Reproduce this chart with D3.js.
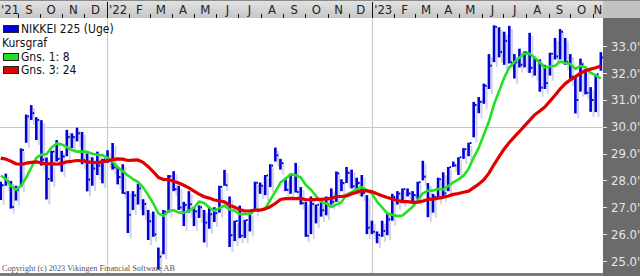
<!DOCTYPE html>
<html>
<head>
<meta charset="utf-8">
<script src="https://cdn.jsdelivr.net/npm/d3@7"></script>
<style>
  html, body { margin: 0; padding: 0; background: #fff; }
  svg { display: block; }
  text { font-family: "Liberation Sans Narrow", "DejaVu Sans Condensed", "Arial Narrow", sans-serif; }
</style>
</head>
<body>
<svg id="chart"></svg>
<script>
// Weekly bars, dated by the sunday that ends each week
const firstWeek = '2021-08-08'

const weekHigh = [
  27.95, 28.25, 27.98, 27.80, 29.19, 30.45, 30.80, 30.35, 30.24, 28.85,
  29.10, 29.50, 29.10, 29.88, 29.75, 29.96, 29.80, 29.00, 28.86, 29.07,
  28.80, 29.12, 29.39, 28.50, 28.60, 27.60, 27.60, 27.88, 27.30, 26.90,
  26.84, 25.50, 26.90, 28.20, 28.34, 27.80, 27.20, 27.60, 27.00, 27.07,
  26.90, 27.00, 27.00, 27.80, 28.39, 27.40, 26.50, 27.06, 26.53, 26.80,
  27.95, 27.92, 28.20, 28.60, 29.22, 28.80, 28.10, 28.25, 28.65, 27.75,
  27.20, 27.40, 27.10, 27.30, 27.40, 27.70, 28.33, 28.04, 28.50, 28.40,
  28.10, 28.20, 27.45, 26.50, 26.10, 26.50, 26.80, 27.50, 27.60, 27.70,
  27.70, 27.60, 27.95, 28.73, 27.90, 27.50, 28.10, 28.30, 28.50, 28.70,
  28.86, 29.20, 29.40, 30.92, 31.10, 31.60, 32.70, 33.77, 33.70, 33.53,
  33.75, 32.70, 32.90, 32.80, 33.49, 32.60, 32.50, 32.30, 32.75, 33.30,
  33.63, 33.30, 32.70, 31.90, 32.53, 32.15, 31.47, 31.95, 32.77
]

const weekLow = [
  27.27, 27.80, 26.95, 27.25, 27.75, 29.40, 30.25, 29.50, 28.55, 27.29,
  27.95, 28.70, 28.32, 28.90, 29.20, 29.45, 28.60, 27.59, 27.80, 28.20,
  27.89, 28.65, 28.40, 27.85, 27.50, 26.04, 26.90, 27.10, 26.70, 25.78,
  25.90, 24.68, 25.25, 26.80, 27.60, 26.90, 26.30, 26.80, 26.30, 26.60,
  25.69, 26.20, 26.45, 26.80, 27.80, 25.52, 25.74, 25.85, 25.86, 26.10,
  26.85, 27.50, 27.45, 27.75, 28.70, 28.40, 27.60, 27.50, 27.55, 27.10,
  25.90, 26.00, 26.40, 26.65, 26.70, 27.10, 27.20, 27.60, 27.90, 27.70,
  27.60, 27.40, 26.00, 26.00, 25.66, 25.90, 25.96, 26.50, 27.10, 27.20,
  27.40, 27.20, 27.30, 28.00, 26.63, 26.80, 27.30, 27.40, 27.60, 28.50,
  28.20, 28.80, 28.90, 29.60, 30.50, 30.85, 31.40, 32.40, 32.58, 32.30,
  32.35, 31.79, 32.20, 32.20, 32.00, 31.90, 31.30, 31.40, 31.90, 32.50,
  32.50, 32.30, 31.70, 30.49, 31.30, 31.20, 30.55, 30.54, 32.08
]

const weekClose = [
  27.82, 27.98, 27.01, 27.64, 29.13, 30.38, 30.50, 30.25, 28.77, 28.05,
  29.07, 28.80, 28.89, 29.61, 29.61, 29.75, 28.75, 28.03, 28.44, 28.55,
  28.78, 28.79, 28.48, 28.12, 27.52, 26.72, 27.44, 27.70, 27.12, 26.48,
  25.99, 25.16, 26.83, 28.15, 27.67, 26.99, 27.09, 27.11, 26.85, 27.00,
  26.43, 26.74, 26.78, 27.76, 27.82, 25.96, 26.49, 25.94, 26.52, 26.79,
  27.91, 27.80, 28.18, 28.55, 28.93, 28.64, 27.65, 28.21, 27.57, 27.15,
  25.94, 27.12, 27.09, 26.89, 27.11, 27.20, 28.26, 27.90, 28.28, 27.78,
  27.90, 27.53, 26.24, 26.09, 25.97, 26.12, 26.55, 27.38, 27.51, 27.67,
  27.51, 27.45, 27.93, 28.14, 27.33, 27.39, 28.04, 27.52, 28.49, 28.56,
  28.86, 29.16, 29.39, 30.81, 30.92, 31.52, 32.27, 33.71, 32.78, 33.19,
  32.39, 32.39, 32.30, 32.76, 32.19, 32.47, 31.45, 31.62, 32.71, 32.61,
  33.53, 32.40, 31.86, 30.99, 32.32, 31.26, 30.99, 31.95, 32.57
]

// Gns. 1: 8
const avgShort = [
  28.18, 28.05, 27.80, 27.65, 27.80, 28.10, 28.47, 28.84, 28.96, 28.97,
  29.22, 29.37, 29.34, 29.24, 29.13, 29.07, 29.07, 29.06, 28.99, 28.95,
  28.94, 28.84, 28.70, 28.49, 28.34, 28.18, 28.05, 27.94, 27.74, 27.45,
  27.14, 26.77, 26.68, 26.86, 26.89, 26.80, 26.80, 26.87, 26.98, 27.21,
  27.16, 26.99, 26.87, 26.97, 27.06, 26.92, 26.87, 26.74, 26.75, 26.76,
  26.90, 26.90, 26.95, 27.27, 27.58, 27.92, 28.06, 28.23, 28.19, 28.11,
  27.83, 27.65, 27.42, 27.20, 27.14, 27.01, 27.10, 27.19, 27.48, 27.56,
  27.67, 27.75, 27.64, 27.50, 27.21, 26.99, 26.77, 26.72, 26.67, 26.69,
  26.85, 27.02, 27.27, 27.52, 27.62, 27.62, 27.68, 27.66, 27.79, 27.93,
  28.04, 28.17, 28.43, 28.85, 29.21, 29.71, 30.19, 30.83, 31.32, 31.82,
  32.20, 32.40, 32.57, 32.72, 32.71, 32.56, 32.39, 32.20, 32.24, 32.26,
  32.42, 32.37, 32.33, 32.15, 32.26, 32.21, 32.00, 31.91, 31.79
]

// Gns. 3: 24
const avgLong = [
  28.83, 28.79, 28.71, 28.62, 28.59, 28.64, 28.67, 28.69, 28.65, 28.61,
  28.62, 28.60, 28.63, 28.69, 28.71, 28.74, 28.73, 28.69, 28.67, 28.66,
  28.69, 28.73, 28.77, 28.80, 28.79, 28.74, 28.75, 28.76, 28.67, 28.51,
  28.32, 28.11, 28.03, 28.03, 27.97, 27.90, 27.82, 27.72, 27.60, 27.49,
  27.39, 27.34, 27.27, 27.24, 27.20, 27.08, 27.00, 26.91, 26.86, 26.87,
  26.89, 26.89, 26.94, 27.02, 27.14, 27.29, 27.32, 27.33, 27.32, 27.33,
  27.28, 27.28, 27.29, 27.29, 27.31, 27.33, 27.40, 27.40, 27.42, 27.50,
  27.55, 27.62, 27.61, 27.58, 27.50, 27.43, 27.36, 27.31, 27.25, 27.21,
  27.21, 27.18, 27.19, 27.23, 27.29, 27.30, 27.34, 27.37, 27.42, 27.48,
  27.51, 27.56, 27.60, 27.73, 27.86, 28.02, 28.27, 28.59, 28.88, 29.17,
  29.41, 29.62, 29.82, 30.03, 30.23, 30.44, 30.58, 30.73, 30.95, 31.17,
  31.40, 31.60, 31.74, 31.85, 31.99, 32.08, 32.14, 32.19, 32.26
]

const monthLetters = ['J', 'F', 'M', 'A', 'M', 'J', 'J', 'A', 'S', 'O', 'N', 'D']
const priceTicks = [25, 26, 27, 28, 29, 30, 31, 32, 33]
const gridPrices = [30]
const legendNames = ['NIKKEI 225 (Uge)', 'Kursgraf', 'Gns. 1: 8', 'Gns. 3: 24']
const legendColors = ['#0000d8', null, '#22e022', '#e00000']
const copyright = 'Copyright (c) 2023 Vikingen Financial Software AB'

const width = 640
const height = 276
const plot = { left: 0, right: 603, top: 18, bottom: 273 }

const parse = d3.utcParse('%Y-%m-%d')
const start = parse(firstWeek)
const data = weekHigh.map((h, i) => ({
  date: d3.utcDay.offset(start, i * 7),
  high: h,
  low: weekLow[i],
  close: weekClose[i],
  avgShort: avgShort[i],
  avgLong: avgLong[i]
}))

const svg = d3.select('#chart')
  .attr('width', width)
  .attr('height', height)
  .attr('viewBox', [0, 0, width, height])

const x = d3.scaleUtc()
  .domain([parse('2021-08-07'), parse('2023-11-15')])
  .range([plot.left, plot.right])

const y = d3.scaleLinear()
  .domain([25, 33])
  .range([261, 46])

const defs = svg.append('defs')
defs.append('clipPath')
  .attr('id', 'plot-clip')
  .append('rect')
  .attr('x', plot.left)
  .attr('y', plot.top)
  .attr('width', plot.right - plot.left)
  .attr('height', plot.bottom - plot.top)

defs.append('linearGradient')
  .attr('id', 'strip-gradient')
  .attr('x1', 0).attr('y1', 0).attr('x2', 0).attr('y2', 1)
  .selectAll('stop')
  .data([
    { offset: '0%', color: '#e4e4e4' },
    { offset: '100%', color: '#c6c6c6' }
  ])
  .join('stop')
  .attr('offset', d => d.offset)
  .attr('stop-color', d => d.color)

// Background
svg.append('rect')
  .attr('width', width)
  .attr('height', height)
  .attr('fill', '#fff')

// Grid
svg.append('g')
  .selectAll('line')
  .data(gridPrices)
  .join('line')
  .attr('x1', plot.left)
  .attr('x2', plot.right)
  .attr('y1', d => Math.round(y(d)) + 0.5)
  .attr('y2', d => Math.round(y(d)) + 0.5)
  .attr('stroke', '#c8c8c8')

const yearStarts = d3.utcYear.range(x.domain()[0], x.domain()[1])
svg.append('g')
  .selectAll('line')
  .data(yearStarts)
  .join('line')
  .attr('x1', d => Math.round(x(d)) + 0.5)
  .attr('x2', d => Math.round(x(d)) + 0.5)
  .attr('y1', plot.top)
  .attr('y2', plot.bottom)
  .attr('stroke', '#c8c8c8')

const chart = svg.append('g').attr('clip-path', 'url(#plot-clip)')

// Bar shadows
chart.append('g')
  .selectAll('rect')
  .data(data)
  .join('rect')
  .attr('x', d => x(d.date) + 1.8)
  .attr('y', d => y(d.high) + 3)
  .attr('width', 2)
  .attr('height', d => y(d.low) - y(d.high) + 2)
  .attr('fill', '#d2d2ea')

// Bars
chart.append('g')
  .selectAll('rect')
  .data(data)
  .join('rect')
  .attr('x', d => x(d.date) - 1.3)
  .attr('y', d => y(d.high))
  .attr('width', 2.6)
  .attr('height', d => y(d.low) - y(d.high))
  .attr('fill', '#0000d8')

// Close ticks
chart.append('g')
  .selectAll('rect')
  .data(data)
  .join('rect')
  .attr('x', d => x(d.date) + 1.3)
  .attr('y', d => y(d.close) - 1)
  .attr('width', 1.6)
  .attr('height', 2)
  .attr('fill', '#0000d8')

// Moving averages
const lineShort = d3.line()
  .x(d => x(d.date))
  .y(d => y(d.avgShort))

const lineLong = d3.line()
  .x(d => x(d.date))
  .y(d => y(d.avgLong))

chart.append('path')
  .datum(data)
  .attr('d', lineShort)
  .attr('fill', 'none')
  .attr('stroke', '#22e022')
  .attr('stroke-width', 2.6)
  .attr('stroke-linejoin', 'round')

chart.append('path')
  .datum(data)
  .attr('d', lineLong)
  .attr('fill', 'none')
  .attr('stroke', '#e00000')
  .attr('stroke-width', 3.2)
  .attr('stroke-linejoin', 'round')

// Top time strip
svg.append('rect')
  .attr('x', 0)
  .attr('y', 0)
  .attr('width', width)
  .attr('height', plot.top)
  .attr('fill', 'url(#strip-gradient)')
svg.append('rect')
  .attr('x', plot.right)
  .attr('y', 0)
  .attr('width', width - plot.right)
  .attr('height', plot.top)
  .attr('fill', '#c2c2c2')
svg.append('line')
  .attr('x1', 0).attr('x2', width)
  .attr('y1', 0.5).attr('y2', 0.5)
  .attr('stroke', '#8a8a8a')

const monthStarts = d3.utcMonth.range(d3.utcMonth.floor(x.domain()[0]), x.domain()[1])
const topAxis = svg.append('g')

topAxis.selectAll('line')
  .data(monthStarts.filter(d => x(d) > plot.left))
  .join('line')
  .attr('x1', d => Math.round(x(d)) + 0.5)
  .attr('x2', d => Math.round(x(d)) + 0.5)
  .attr('y1', d => d.getUTCMonth() === 0 ? 2 : 14)
  .attr('y2', plot.top)
  .attr('stroke', '#111')

topAxis.selectAll('text')
  .data(monthStarts)
  .join('text')
  .attr('x', d => {
    const a = Math.max(x(d), plot.left)
    const b = Math.min(x(d3.utcMonth.offset(d, 1)), plot.right)
    return x(d) < plot.left ? plot.left + 1 : (a + b) / 2
  })
  .attr('y', 13.5)
  .attr('text-anchor', d => x(d) < plot.left ? 'start' : 'middle')
  .attr('font-size', 13)
  .attr('fill', '#222')
  .text((d, i) => (d.getUTCMonth() === 0 || i === 0)
    ? "'" + d3.utcFormat('%y')(d)
    : monthLetters[d.getUTCMonth()])

// Right price axis
svg.append('rect')
  .attr('x', plot.right)
  .attr('y', plot.top)
  .attr('width', width - plot.right)
  .attr('height', height - plot.top)
  .attr('fill', '#6b6b6b')

const rightAxis = svg.append('g')
rightAxis.selectAll('line')
  .data(priceTicks)
  .join('line')
  .attr('x1', plot.right)
  .attr('x2', plot.right + 4)
  .attr('y1', d => Math.round(y(d)) + 0.5)
  .attr('y2', d => Math.round(y(d)) + 0.5)
  .attr('stroke', '#e8e8e8')

rightAxis.selectAll('text')
  .data(priceTicks)
  .join('text')
  .attr('x', plot.right + 8)
  .attr('y', d => y(d))
  .attr('dy', '0.36em')
  .attr('font-size', 13)
  .attr('fill', '#e6e6e6')
  .text(d => d3.format('.1f')(d) + "'")

// Bottom border and copyright
svg.append('rect')
  .attr('x', 0)
  .attr('y', plot.bottom)
  .attr('width', plot.right)
  .attr('height', height - plot.bottom)
  .attr('fill', '#7a7a7a')

svg.append('text')
  .attr('x', 2)
  .attr('y', 271)
  .attr('font-size', 9)
  .attr('fill', '#555')
  .attr('textLength', 173)
  .attr('lengthAdjust', 'spacingAndGlyphs')
  .style('font-family', '"Liberation Serif", "DejaVu Serif", serif')
  .text(copyright)

// Legend
const legend = svg.append('g')
  .selectAll('g')
  .data(legendNames)
  .join('g')
  .attr('transform', (d, i) => `translate(3, ${[29, 43, 57, 70][i]})`)

legend.filter((d, i) => legendColors[i])
  .append('rect')
  .attr('x', 0.5)
  .attr('y', -3.5)
  .attr('width', 15)
  .attr('height', 7)
  .attr('fill', d => legendColors[legendNames.indexOf(d)])
  .attr('stroke', '#222')

legend.append('text')
  .attr('x', (d, i) => legendColors[i] ? 18 : -1)
  .attr('dy', '0.36em')
  .attr('font-size', 12)
  .attr('fill', '#111')
  .text(d => d)
</script>
</body>
</html>
